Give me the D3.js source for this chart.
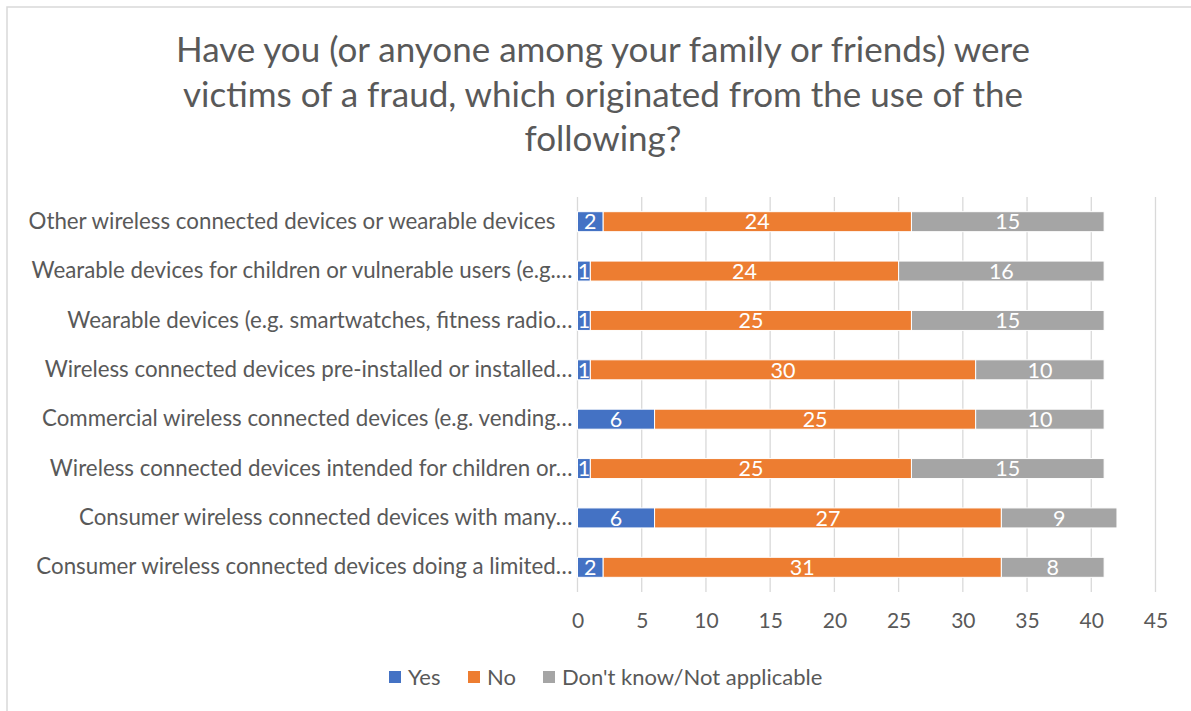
<!DOCTYPE html>
<html>
<head>
<meta charset="utf-8">
<script src="https://cdn.jsdelivr.net/npm/d3@7"></script>
<style>
  html, body { margin: 0; padding: 0; background: #fff; }
  svg text { font-family: Lato, "Open Sans", sans-serif; }
</style>
</head>
<body>
<svg id="chart" width="1191" height="711"></svg>
<script>
// Categories, top row first
const categories = [
  "Other wireless connected devices or wearable devices   ",
  "Wearable devices for children or vulnerable users (e.g.\u2026",
  "Wearable devices (e.g. smartwatches, fitness radio\u2026",
  "Wireless connected devices pre-installed or installed\u2026",
  "Commercial wireless connected devices (e.g. vending\u2026",
  "Wireless connected devices intended for children or\u2026",
  "Consumer wireless connected devices with many\u2026",
  "Consumer wireless connected devices doing a limited\u2026"
];
const seriesNames = ["Yes", "No", "Don't know/Not applicable"];
const yesValues = [2, 1, 1, 1, 6, 1, 6, 2];
const noValues = [24, 24, 25, 30, 25, 25, 27, 31];
const dontKnowValues = [15, 16, 15, 10, 10, 15, 9, 8];
const xTicks = [0, 5, 10, 15, 20, 25, 30, 35, 40, 45];
const titleLines = [
  "Have you (or anyone among your family or friends) were",
  "victims of a fraud, which originated from the use of the",
  "following?"
];
const colors = ["#4472C4", "#ED7D31", "#A5A5A5"];

const svg = d3.select("#chart");
const textColor = "#595959";

// chart frame
svg.append("rect")
  .attr("x", 7).attr("y", 7)
  .attr("width", 1200).attr("height", 720)
  .attr("fill", "#fff")
  .attr("stroke", "#d9d9d9").attr("stroke-width", 1.5);

// title
svg.append("g").selectAll("text")
  .data(titleLines).join("text")
  .attr("x", 603)
  .attr("y", (d, i) => 62 + i * 44.5)
  .attr("text-anchor", "middle")
  .attr("fill", textColor)
  .style("font-size", "35px")
  .text(d => d);

const plot = { left: 577.5, right: 1155.5, top: 197, bottom: 592 };

const x = d3.scaleLinear()
  .domain([0, 45])
  .range([plot.left, plot.right]);

const y = d3.scaleBand()
  .domain(categories)
  .range([plot.top, plot.bottom])
  .paddingInner(0.595)
  .paddingOuter(0.2975);

// gridlines
svg.append("g").selectAll("line")
  .data(xTicks).join("line")
  .attr("x1", d => x(d)).attr("x2", d => x(d))
  .attr("y1", plot.top).attr("y2", plot.bottom)
  .attr("stroke", "#d9d9d9").attr("stroke-width", 1.3);

// x axis labels
const xAxis = d3.axisBottom(x).tickValues(xTicks).tickSize(0).tickPadding(0);
const xg = svg.append("g")
  .attr("transform", `translate(0,${plot.bottom + 21})`)
  .call(xAxis);
xg.select(".domain").remove();
xg.selectAll("text")
  .attr("fill", textColor)
  .attr("dy", "0.71em")
  .style("font-size", "21px")
  .style("font-family", "Lato, 'Open Sans', sans-serif");

// category labels
const yAxis = d3.axisLeft(y).tickSize(0).tickPadding(5);
const yg = svg.append("g")
  .attr("transform", `translate(${plot.left},0)`)
  .call(yAxis);
yg.select(".domain").remove();
yg.selectAll("text")
  .attr("fill", textColor)
  .style("font-size", "22.3px")
  .style("white-space", "pre")
  .style("font-family", "Lato, 'Open Sans', sans-serif");

// stacked bars
const rows = categories.map((c, i) => ({
  category: c,
  values: [yesValues[i], noValues[i], dontKnowValues[i]]
}));
const stack = d3.stack()
  .keys([0, 1, 2])
  .value((d, k) => d.values[k]);
const layers = stack(rows);

const layerG = svg.append("g").selectAll("g")
  .data(layers).join("g")
  .attr("fill", (d, i) => colors[i]);

layerG.selectAll("rect")
  .data(d => d).join("rect")
  .attr("x", d => x(d[0]))
  .attr("y", d => y(d.data.category))
  .attr("width", d => x(d[1]) - x(d[0]))
  .attr("height", y.bandwidth())
  .attr("stroke", "#fff")
  .attr("stroke-width", 1);

// value labels
layerG.selectAll("text")
  .data(d => d).join("text")
  .attr("x", d => (x(d[0]) + x(d[1])) / 2)
  .attr("y", d => y(d.data.category) + y.bandwidth() / 2)
  .attr("dy", "0.36em")
  .attr("text-anchor", "middle")
  .attr("fill", "#fff")
  .style("font-size", "21.5px")
  .text(d => d[1] - d[0]);

// legend
const legendItems = [
  { name: seriesNames[0], color: colors[0], x: 389 },
  { name: seriesNames[1], color: colors[1], x: 468 },
  { name: seriesNames[2], color: colors[2], x: 543 }
];
const lg = svg.append("g").selectAll("g")
  .data(legendItems).join("g")
  .attr("transform", d => `translate(${d.x},671)`);
lg.append("rect")
  .attr("width", 12).attr("height", 12)
  .attr("fill", d => d.color);
lg.append("text")
  .attr("x", 19).attr("y", 6)
  .attr("dy", "0.36em")
  .attr("fill", textColor)
  .style("font-size", "22px")
  .text(d => d.name);
</script>
</body>
</html>
